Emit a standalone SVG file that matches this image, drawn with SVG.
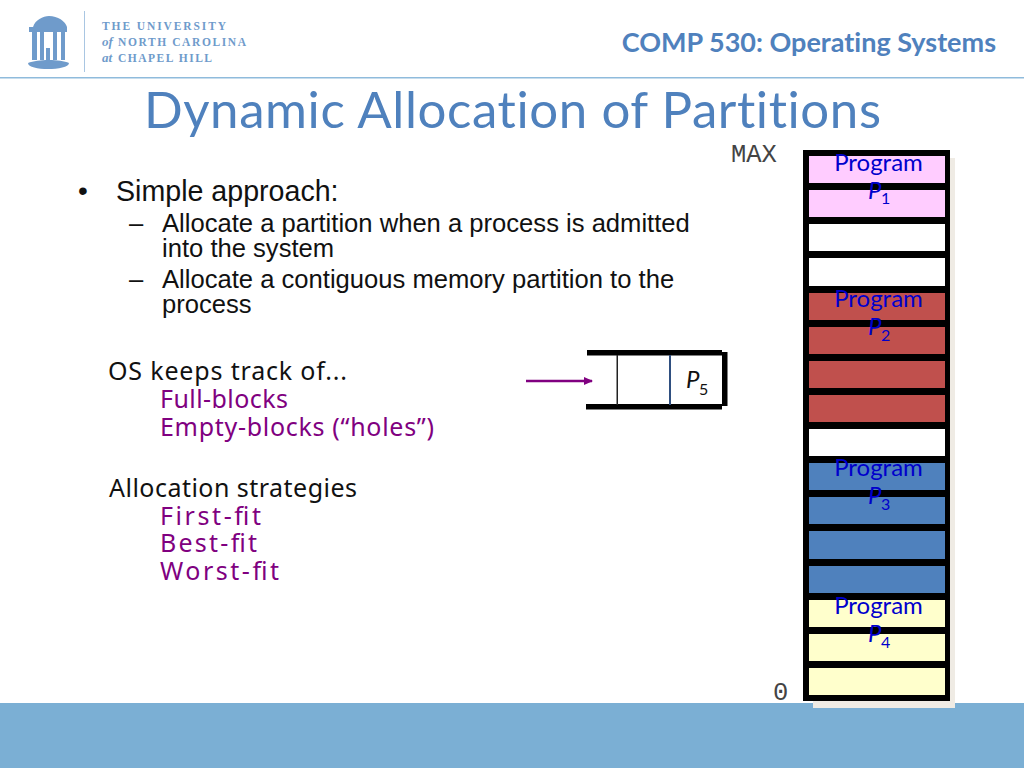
<svg xmlns="http://www.w3.org/2000/svg" width="1024" height="768" viewBox="0 0 1024 768">
<style>
.logo{font-family:"Liberation Serif",serif;font-weight:700;font-size:11.5px;fill:#6f9bcb}
.logoi{font-family:"Liberation Serif",serif;font-style:italic;font-weight:700;font-size:13px;fill:#6f9bcb}
.arial{font-family:"Liberation Sans",Arial,sans-serif;fill:#111}
.hum{font-family:"Noto Sans",sans-serif;font-size:25px}
.prog{font-family:Lato,sans-serif;font-size:24px;fill:#0000cc;text-anchor:middle}
.pi{font-family:Lato,sans-serif;font-size:24px;font-style:italic;fill:#0000cc}
.sub{font-family:Lato,sans-serif;font-size:16px;fill:#0000cc}
.mono{font-family:"Liberation Mono",monospace;font-size:25.5px;fill:#444}
.pink{fill:#ffccff}.white{fill:#fff}.red{fill:#c0504d}.blue{fill:#4f81bd}.yellow{fill:#ffffcc}
.pu{fill:#800080}
</style>
<defs>
<marker id="arr" markerWidth="9" markerHeight="8" refX="8" refY="4" orient="auto" markerUnits="userSpaceOnUse"><path d="M0 0L9 4L0 8z" fill="#800080"/></marker>
</defs>
<rect width="1024" height="768" fill="#fff"/>
<g id="header">
<rect x="0" y="703" width="1024" height="65" fill="#7bafd4"/>
<rect x="0" y="77" width="1024" height="1.5" fill="#8fbbdc"/>
<rect x="84" y="11" width="1" height="61" fill="#a9c6e2"/>
<g fill="#6f9bcb">
<path d="M33 27C35 20 43 16 49 16C58 16 65 21 67 27z"/>
<path d="M29 27H67V32H29z"/>
<rect x="32" y="32" width="5" height="28"/><rect x="40" y="32" width="4" height="28"/><rect x="53" y="32" width="4" height="28"/><rect x="61" y="32" width="4" height="28"/>
<rect x="46" y="48" width="4" height="12"/>
<path d="M28 63C38 59 60 59 69 63C69 67 58 69 48 69C38 69 28 67 28 63z"/>
</g>
<text class="logo" x="102" y="30" textLength="124">THE UNIVERSITY</text>
<text class="logoi" x="102" y="46">of</text><text class="logo" x="118" y="46" textLength="128">NORTH CAROLINA</text>
<text class="logoi" x="102" y="62">at</text><text class="logo" x="118" y="62" textLength="94">CHAPEL HILL</text>
<text x="996" y="52" text-anchor="end" font-family="Lato,sans-serif" font-weight="700" font-size="27" fill="#4f81bd" style="font-variant-ligatures:none">COMP 530: Operating Systems</text>
<text x="144" y="128" font-family="Lato,sans-serif" font-size="51" fill="#4f81bd" style="font-variant-ligatures:none" textLength="737">Dynamic Allocation of Partitions</text>
</g>
<g id="body-text">
<text class="arial" x="78" y="200" font-size="28">•</text>
<text class="arial" x="116" y="201" font-size="28.6">Simple approach:</text>
<text class="arial" x="129" y="232" font-size="25.6">–</text>
<text class="arial" x="162" y="232" font-size="25.6">Allocate a partition when a process is admitted</text>
<text class="arial" x="162" y="257" font-size="25.6">into the system</text>
<text class="arial" x="129" y="288" font-size="25.6">–</text>
<text class="arial" x="162" y="288" font-size="25.6">Allocate a contiguous memory partition to the</text>
<text class="arial" x="162" y="313" font-size="25.6">process</text>
<text class="hum" x="108" y="380" fill="#111" textLength="239">OS keeps track of...</text>
<text class="hum pu" x="160" y="408" textLength="128">Full-blocks</text>
<text class="hum pu" x="160" y="436" textLength="274">Empty-blocks (“holes”)</text>
<text class="hum" x="109" y="497" fill="#111" textLength="248">Allocation strategies</text>
<text class="hum pu" x="160" y="525" textLength="101">First-fit</text>
<text class="hum pu" x="160" y="552" textLength="97">Best-fit</text>
<text class="hum pu" x="160" y="580" textLength="119">Worst-fit</text>
<text class="mono" x="731" y="162">MAX</text>
<text class="mono" x="773" y="700">0</text>
</g>
<g id="memory">
<rect x="813" y="158" width="142" height="550" fill="#efebe4"/>
<rect x="803" y="150" width="147" height="551" fill="#000"/>
<rect class="pink" x="809" y="156" width="136" height="27"/>
<rect class="pink" x="809" y="190" width="136" height="27"/>
<rect class="white" x="809" y="224" width="136" height="27"/>
<rect class="white" x="809" y="258" width="136" height="28"/>
<rect class="red" x="809" y="293" width="136" height="27"/>
<rect class="red" x="809" y="327" width="136" height="27"/>
<rect class="red" x="809" y="361" width="136" height="27"/>
<rect class="red" x="809" y="395" width="136" height="27"/>
<rect class="white" x="809" y="429" width="136" height="27"/>
<rect class="blue" x="809" y="463" width="136" height="27"/>
<rect class="blue" x="809" y="497" width="136" height="27"/>
<rect class="blue" x="809" y="531" width="136" height="28"/>
<rect class="blue" x="809" y="566" width="136" height="27"/>
<rect class="yellow" x="809" y="600" width="136" height="27"/>
<rect class="yellow" x="809" y="634" width="136" height="27"/>
<rect class="yellow" x="809" y="668" width="136" height="27"/>
</g>
<g id="p1"><text class="prog" x="878.500" y="171">Program</text><text class="pi" x="868" y="199">P</text><text class="sub" x="881" y="204">1</text></g>
<g id="p2"><text class="prog" x="878.500" y="307">Program</text><text class="pi" x="868" y="335">P</text><text class="sub" x="881" y="341">2</text></g>
<g id="p3"><text class="prog" x="878.500" y="476">Program</text><text class="pi" x="868" y="504">P</text><text class="sub" x="881" y="510">3</text></g>
<g id="p4"><text class="prog" x="878.500" y="614">Program</text><text class="pi" x="868" y="642">P</text><text class="sub" x="881" y="648">4</text></g>
<g id="queue">
<rect x="587" y="350" width="135" height="5.5" fill="#000"/>
<rect x="586" y="404" width="136" height="5.5" fill="#000"/>
<rect x="722" y="352" width="5.5" height="54" fill="#000"/>
<rect x="616.500" y="355" width="1.5" height="50" fill="#222"/>
<rect x="669" y="355" width="2" height="50" fill="#2f4f80"/>
<text x="686" y="388" font-family="Lato,sans-serif" font-size="24" font-style="italic" fill="#111">P</text>
<text x="699" y="395" font-family="Lato,sans-serif" font-size="16" fill="#111">5</text>
</g>
<g id="connectors">
<line x1="526" y1="381" x2="592" y2="381" stroke="#800080" stroke-width="2.500" marker-end="url(#arr)"/>
</g>
</svg>
